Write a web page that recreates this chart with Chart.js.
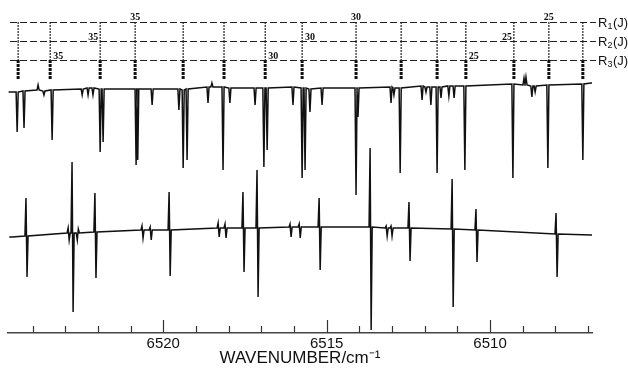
<!DOCTYPE html>
<html>
<head>
<meta charset="utf-8">
<script src="https://cdn.jsdelivr.net/npm/chart.js@4/dist/chart.umd.min.js"></script>
<style>
  html, body { margin: 0; padding: 0; background: #fff; }
  canvas { display: block; }
</style>
</head>
<body>
<canvas id="myChart" width="628" height="370"></canvas>
<script>
// x axis = wavenumber in cm-1, drawn from high (left) to low (right)
const axisTicks = [6524, 6523, 6522, 6521, 6520, 6519, 6518, 6517, 6516, 6515, 6514, 6513, 6512, 6511, 6510, 6509, 6508, 6507];
const majorTicks = [6520, 6515, 6510]; // only these get a number

// assignment ladder: line positions shared by the three R branches
const ladderPos = [6524.44, 6523.46, 6521.93, 6520.86, 6519.39, 6518.14, 6516.88, 6515.75, 6514.10, 6512.72, 6511.62, 6510.74, 6509.27, 6508.20, 6507.16];
const r1J = [38, 37, 36, 35, 34, 33, 32, 31, 30, 29, 28, 27, 26, 25, 24];
const r2J = [37, 36, 35, 34, 33, 32, 31, 30, 29, 28, 27, 26, 25, 24, 23];
const r3J = [36, 35, 34, 33, 32, 31, 30, 29, 28, 27, 26, 25, 24, 23, 22];
const labeledJ = [35, 30, 25];

// upper trace: absorption lines (position, local baseline, line extreme), arbitrary absorption units
const absW = [6524.70, 6524.47, 6524.26, 6523.83, 6523.65, 6523.40, 6522.48, 6522.30, 6522.15, 6521.93,
              6521.84, 6520.83, 6520.78, 6520.34, 6519.52, 6519.39, 6519.27, 6518.63, 6518.51, 6518.17,
              6517.96, 6517.19, 6516.92, 6516.82, 6516.03, 6515.75, 6515.66, 6515.51, 6515.14, 6514.10,
              6514.04, 6513.03, 6512.94, 6512.75, 6512.08, 6511.96, 6511.81, 6511.62, 6511.50, 6511.26,
              6511.10, 6510.77, 6509.30, 6508.96, 6508.90, 6508.72, 6508.62, 6508.23, 6507.16, 6506.88];
const absBase = [0.04, 0.04, 0.03, 0.02, 0.03, 0.02, 0.01, 0.00, 0.00, 0.01,
                 0.01, 0.01, 0.01, 0.01, 0.01, 0.02, 0.01, -0.01, -0.01, -0.01,
                 0.00, 0.00, 0.00, 0.00, -0.01, 0.00, 0.00, 0.01, 0.00, 0.00,
                 0.00, -0.01, 0.00, 0.00, -0.02, -0.01, -0.01, -0.01, -0.01, -0.02,
                 -0.02, -0.02, -0.04, -0.03, -0.03, -0.02, -0.02, -0.03, -0.04, -0.05];
const absPeak = [0.04, 0.44, 0.40, -0.03, 0.07, 0.52, 0.07, 0.07, 0.07, 0.64,
                 0.54, 0.77, 0.72, 0.17, 0.22, 0.80, 0.72, 0.15, -0.05, 0.82,
                 0.15, 0.17, 0.79, 0.62, 0.17, 0.90, 0.82, 0.24, 0.17, 1.07,
                 0.29, 0.15, 0.07, 0.85, 0.12, 0.04, 0.17, 0.85, 0.10, 0.08,
                 0.10, 0.82, 0.90, -0.10, -0.11, 0.09, 0.04, 0.80, 0.72, -0.05];

// lower trace: derivative lines (position, baseline, first lobe, second lobe), arbitrary units
const derW = [6524.68, 6524.20, 6522.91, 6522.79, 6522.63, 6522.09, 6520.65, 6520.40, 6519.82, 6518.32,
              6518.11, 6517.56, 6517.13, 6516.12, 6515.84, 6515.23, 6513.67, 6513.18, 6513.03, 6512.48,
              6511.16, 6510.43, 6507.98, 6506.88];
const derBase = [-0.05, -0.04, -0.01, -0.01, -0.01, 0.00, 0.02, 0.02, 0.02, 0.04,
                 0.04, 0.04, 0.04, 0.05, 0.05, 0.05, 0.05, 0.04, 0.04, 0.04,
                 0.03, 0.02, -0.02, -0.03];
const derFirst = [-0.05, 0.34, 0.04, 0.70, -0.08, 0.39, 0.06, 0.05, 0.40, 0.09,
                  0.08, 0.40, 0.62, 0.08, 0.08, 0.34, 0.84, 0.06, 0.06, 0.30,
                  0.53, 0.23, 0.19, -0.03];
const derSecond = [-0.05, -0.45, -0.08, -0.80, 0.03, -0.46, -0.06, -0.08, -0.44, -0.05,
                   -0.06, -0.40, -0.65, -0.05, -0.06, -0.38, -0.98, -0.04, -0.04, -0.29,
                   -0.75, -0.30, -0.45, -0.03];

const dW = 0.032; // drawn half width of a line, cm-1

// turn the line lists into point lists for the library
const absData = [];
absW.forEach((w, i) => {
    absData.push({x: w + dW, y: absBase[i]}, {x: w, y: absPeak[i]}, {x: w - dW, y: absBase[i]});
});
const derData = [];
derW.forEach((w, i) => {
    derData.push({x: w + dW, y: derBase[i]}, {x: w, y: derFirst[i]},
                 {x: w - dW, y: derSecond[i]}, {x: w - 2 * dW, y: derBase[i]});
});
// one vertical stroke per line, from its row down to the next one
function ladderData(row, bottom) {
    const pts = [];
    ladderPos.forEach(w => pts.push({x: w, y: row}, {x: w, y: bottom}, {x: w, y: null}));
    return pts;
}

// rows, labels and the inward tick marks
const decorations = {
    id: "decorations",
    afterDraw(chart) {
        const {ctx, chartArea, scales} = chart;
        const xs = scales.x, yl = scales.yLad;
        ctx.save();
        ctx.strokeStyle = "#333";
        ctx.lineWidth = 1.2;
        axisTicks.forEach(v => {
            const px = Math.round(xs.getPixelForValue(v)) + 0.5;
            const len = majorTicks.includes(v) ? 13 : 7;
            ctx.beginPath();
            ctx.moveTo(px, chartArea.bottom);
            ctx.lineTo(px, chartArea.bottom - len);
            ctx.stroke();
        });

        const branches = [[r1J, 1, ["c", "c", "c"]], [r2J, 2, ["l", "r", "l"]], [r3J, 3, ["r", "r", "r"]]];
        branches.forEach(([jList, row, sides]) => {
            const py = Math.round(yl.getPixelForValue(row)) + 0.5;
            ctx.strokeStyle = "#222";
            ctx.lineWidth = 1;
            ctx.setLineDash([7, 3]);
            ctx.beginPath();
            ctx.moveTo(chartArea.left + 2, py);
            ctx.lineTo(chartArea.right + 4, py);
            ctx.stroke();
            ctx.setLineDash([]);

            // R_n(J) at the right end
            ctx.fillStyle = "#111";
            ctx.textBaseline = "middle";
            ctx.textAlign = "left";
            let tx = chartArea.right + 6;
            ctx.font = "13px 'Liberation Sans'";
            ctx.fillText("R", tx, py + 1);
            tx += ctx.measureText("R").width;
            ctx.font = "9px 'Liberation Sans'";
            ctx.fillText(String(row), tx, py + 4);
            tx += ctx.measureText(String(row)).width + 0.5;
            ctx.font = "13px 'Liberation Sans'";
            ctx.fillText("(J)", tx, py + 1);

            // J numbers
            ctx.font = "bold 10px 'Liberation Serif'";
            ctx.textBaseline = "alphabetic";
            labeledJ.forEach((j, k) => {
                const idx = jList.indexOf(j);
                if (idx < 0) return;
                const px = xs.getPixelForValue(ladderPos[idx]);
                const side = sides[k];
                if (side === "c") { ctx.textAlign = "center"; ctx.fillText(String(j), px, py - 3); }
                else if (side === "l") { ctx.textAlign = "right"; ctx.fillText(String(j), px - 2, py - 2); }
                else { ctx.textAlign = "left"; ctx.fillText(String(j), px + 3, py - 2); }
            });
        });
        ctx.restore();
    }
};

const traceStyle = {showLine: true, pointRadius: 0, fill: false, borderColor: "#111", tension: 0, spanGaps: false};

const config = {
    type: "scatter",
    data: {
        datasets: [
            {...traceStyle, data: absData, yAxisID: "yAbs", borderWidth: 1.5},
            {...traceStyle, data: derData, yAxisID: "yDer", borderWidth: 1.5},
            {...traceStyle, data: ladderData(1, 2), yAxisID: "yLad", borderWidth: 1.1, borderDash: [2, 1]},
            {...traceStyle, data: ladderData(2, 3), yAxisID: "yLad", borderWidth: 1.1, borderDash: [2, 1]},
            {...traceStyle, data: ladderData(3, 4.05), yAxisID: "yLad", borderWidth: 3, borderDash: [3, 1]}
        ]
    },
    options: {
        responsive: false,
        animation: false,
        layout: {padding: {left: 8, right: 36, top: 0, bottom: 0}},
        plugins: {legend: {display: false}, tooltip: {enabled: false}},
        scales: {
            x: {
                type: "linear",
                reverse: true,
                min: 6506.88,
                max: 6524.75,
                afterBuildTicks: scale => { scale.ticks = axisTicks.map(v => ({value: v})); },
                afterFit: scale => { scale.height = 37; },
                grid: {display: false, drawTicks: false},
                border: {display: true, color: "#444", width: 1.5},
                ticks: {
                    autoSkip: false,
                    maxRotation: 0,
                    padding: 2,
                    color: "#111",
                    font: {family: "'Liberation Sans'", size: 15},
                    callback: v => majorTicks.includes(v) ? String(v) : ""
                },
                title: {
                    display: true,
                    text: "WAVENUMBER/cm\u207B\u00B9",
                    color: "#111",
                    font: {family: "'Liberation Sans'", size: 17},
                    padding: {top: 0, bottom: 1}
                }
            },
            yAbs: {type: "linear", display: false, reverse: true, min: -0.88, max: 2.45},
            yDer: {type: "linear", display: false, min: -1.01, max: 2.32},
            yLad: {type: "linear", display: false, reverse: true, min: -0.158, max: 17.37}
        }
    },
    plugins: [decorations]
};

const ctx = document.getElementById("myChart").getContext("2d");
const myChart = new Chart(ctx, config);
</script>
</body>
</html>
